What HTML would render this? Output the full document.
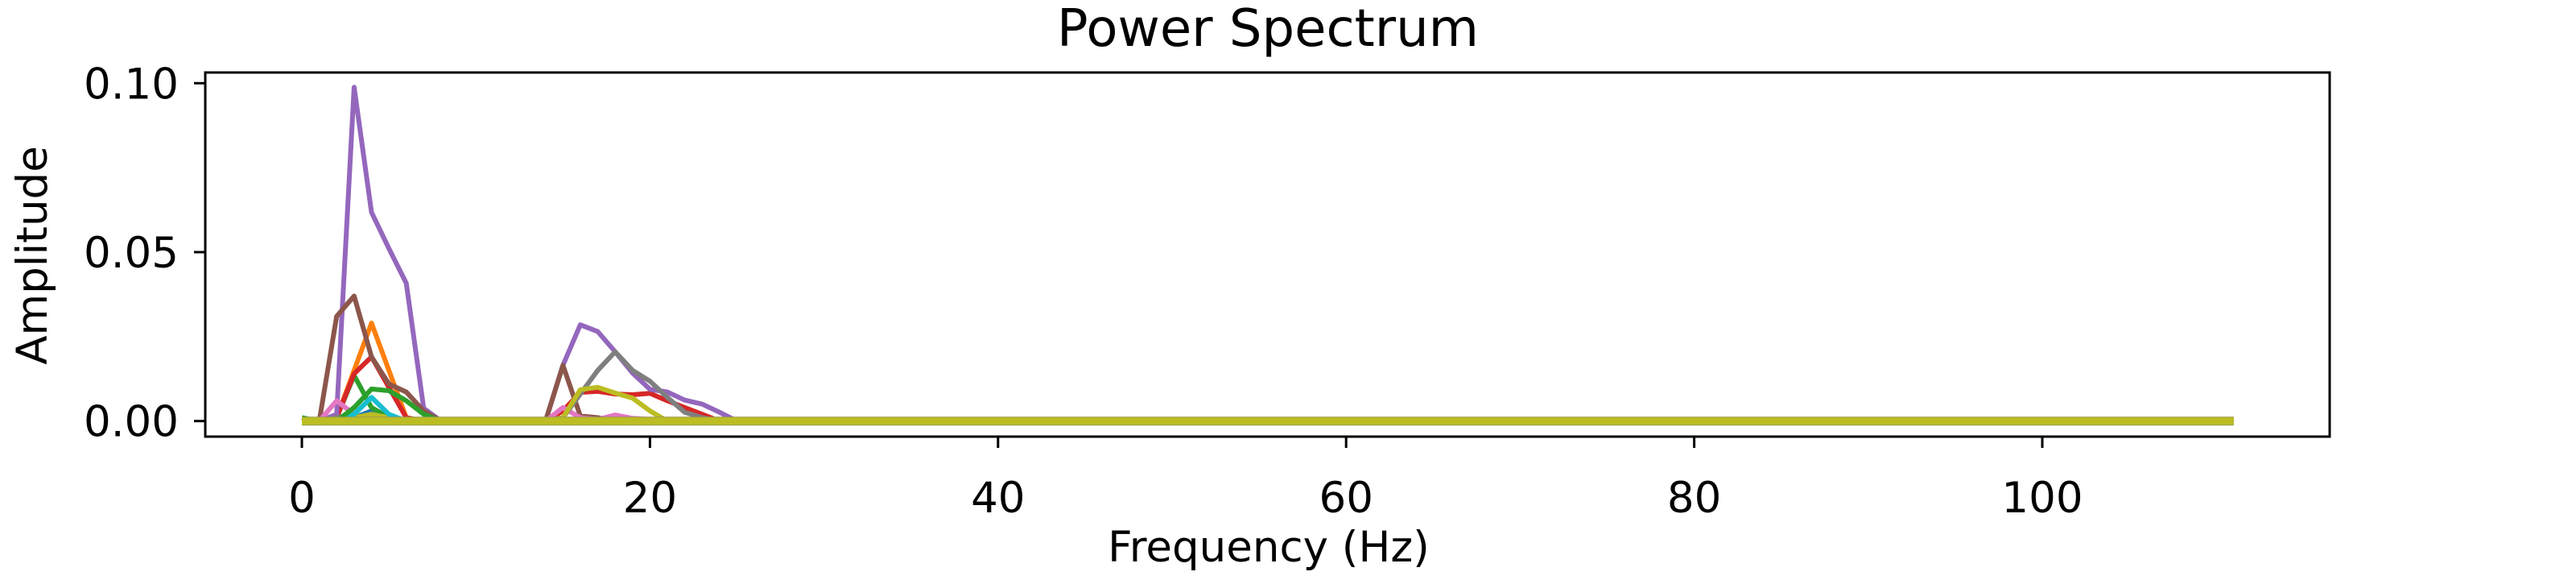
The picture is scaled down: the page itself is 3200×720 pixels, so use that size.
<!DOCTYPE html>
<html><head><meta charset="utf-8"><style>
html,body{margin:0;padding:0;background:#fff;}
svg{display:block;font-family:"DejaVu Sans","Liberation Sans",sans-serif;}
</style></head><body>
<svg id="chart" width="3200" height="720" viewBox="0 0 3200 720" xmlns="http://www.w3.org/2000/svg">
<rect x="0" y="0" width="3200" height="720" fill="#fff"/>
<text x="1575" y="57" font-size="64" text-anchor="middle">Power Spectrum</text>
<g id="plot"></g>
<g id="axes"></g>
<text x="1576" y="697" font-size="53" text-anchor="middle">Frequency (Hz)</text>
<text x="0" y="0" font-size="53" text-anchor="middle" transform="translate(58,317) rotate(-90)">Amplitude</text>
</svg>
<script>
const xTicks = [0, 20, 40, 60, 80, 100];
const yTicks = [0.00, 0.05, 0.10];
const yTickLabels = ["0.00", "0.05", "0.10"];
const lastFreq = 111;
// values at 0,1,2,...,25 Hz (zero afterwards up to lastFreq)
const sBlue   = [0,0,0,0.001,0.003,0.001,0,0,0,0,0,0,0,0,0,0,0,0,0,0,0,0,0,0,0,0];
const sOrange = [0,0,0.001,0.015,0.029,0.015,0.001,0,0,0,0,0,0,0,0,0,0,0,0,0,0,0,0,0,0,0];
const sGreenA = [0.001,0,0.001,0.0135,0.004,0.001,0,0,0,0,0,0,0,0,0,0,0,0,0,0,0,0,0,0,0,0];
const sRed    = [0,0,0.001,0.014,0.019,0.010,0.001,0,0,0,0,0,0,0,0,0.003,0.0085,0.0088,0.008,0.0078,0.0082,0.006,0.004,0.002,0,0];
const sPurple = [0,0,0.002,0.0988,0.0618,0.0511,0.0408,0.0038,0,0,0,0,0,0,0,0.0165,0.0285,0.0265,0.0205,0.0142,0.0094,0.0086,0.0062,0.005,0.0026,0];
const sBrown  = [0,0,0.031,0.037,0.019,0.011,0.0086,0.003,0,0,0,0,0,0,0,0.0165,0.0015,0.001,0,0,0,0,0,0,0,0];
const sPink   = [0,0,0.006,0.002,0,0,0,0,0,0,0,0,0,0,0,0.004,0.001,0.0005,0.0018,0.0008,0.0005,0,0,0,0,0];
const sGray   = [0,0,0.001,0.002,0,0,0,0,0,0,0,0,0,0,0,0.001,0.008,0.015,0.0205,0.015,0.0118,0.007,0.0026,0.001,0,0];
const sOlive  = [0,0,0,0.001,0.002,0.001,0,0,0,0,0,0,0,0,0,0.001,0.0093,0.010,0.0083,0.0068,0.003,0,0,0,0,0];
const sCyan   = [0,0,0,0.002,0.007,0.002,0,0,0,0,0,0,0,0,0,0,0,0,0,0,0,0,0,0,0,0];
const sGreenB = [0,0,0,0.004,0.0095,0.009,0.006,0.002,0,0,0,0,0,0,0,0,0,0,0,0,0,0,0,0,0,0];
const sBase   = [0,0,0,0,0,0,0,0,0,0,0,0,0,0,0,0,0,0,0,0,0,0,0,0,0,0];

const series = [
  {name:'series-blue', v:sBlue, c:'#1f77b4'},
  {name:'series-orange', v:sOrange, c:'#ff7f0e'},
  {name:'series-green-a', v:sGreenA, c:'#2ca02c'},
  {name:'series-red', v:sRed, c:'#d62728'},
  {name:'series-purple', v:sPurple, c:'#9467bd'},
  {name:'series-brown', v:sBrown, c:'#8c564b'},
  {name:'series-pink', v:sPink, c:'#e377c2'},
  {name:'series-gray', v:sGray, c:'#7f7f7f'},
  {name:'series-olive', v:sOlive, c:'#bcbd22'},
  {name:'series-cyan', v:sCyan, c:'#17becf'},
  {name:'series-green-b', v:sGreenB, c:'#2ca02c'},
  {name:'series-baseline', v:sBase, c:'#bcbd22', w:9}
];

const L=255, R=2894, T=90, B=542;
const x = f => 375 + f*21.62;
const y = a => 522.7 - a*4194;
const NS='http://www.w3.org/2000/svg';
const plot=document.getElementById('plot'), axes=document.getElementById('axes');
function mk(tag, attrs, parent){const e=document.createElementNS(NS,tag);for(const k in attrs)e.setAttribute(k,attrs[k]);parent.appendChild(e);return e;}

series.forEach(s=>{
  const pts=s.v.map((a,i)=>x(i).toFixed(1)+','+y(a).toFixed(1));
  pts.push(x(lastFreq).toFixed(1)+','+y(0).toFixed(1));
  if(s.w){
    const o=mk('polyline',{points:pts.join(' '),fill:'none',stroke:'#9a9a50','stroke-width':s.w+2},plot);
    
    
  }
  const p=mk('polyline',{points:pts.join(' '),fill:'none',stroke:s.c,'stroke-width':s.w||6,'stroke-linejoin':'round'},plot);
  
  
});

const fr=mk('rect',{x:L,y:T,width:R-L,height:B-T,fill:'none',stroke:'#000','stroke-width':3},axes);



xTicks.forEach(t=>{
  const tk=mk('line',{x1:x(t),x2:x(t),y1:B,y2:B+14,stroke:'#000','stroke-width':3},axes);
  
  
  const lb=mk('text',{x:x(t),y:636,'font-size':53,'text-anchor':'middle'},axes);
  lb.textContent=String(t);
  
  
});
yTicks.forEach((t,i)=>{
  const tk=mk('line',{x1:L-14,x2:L,y1:y(t),y2:y(t),stroke:'#000','stroke-width':3},axes);
  
  
  const lb=mk('text',{x:222,y:y(t)+19,'font-size':53,'text-anchor':'end'},axes);
  lb.textContent=yTickLabels[i];
  
  
});
</script>
</body></html>
